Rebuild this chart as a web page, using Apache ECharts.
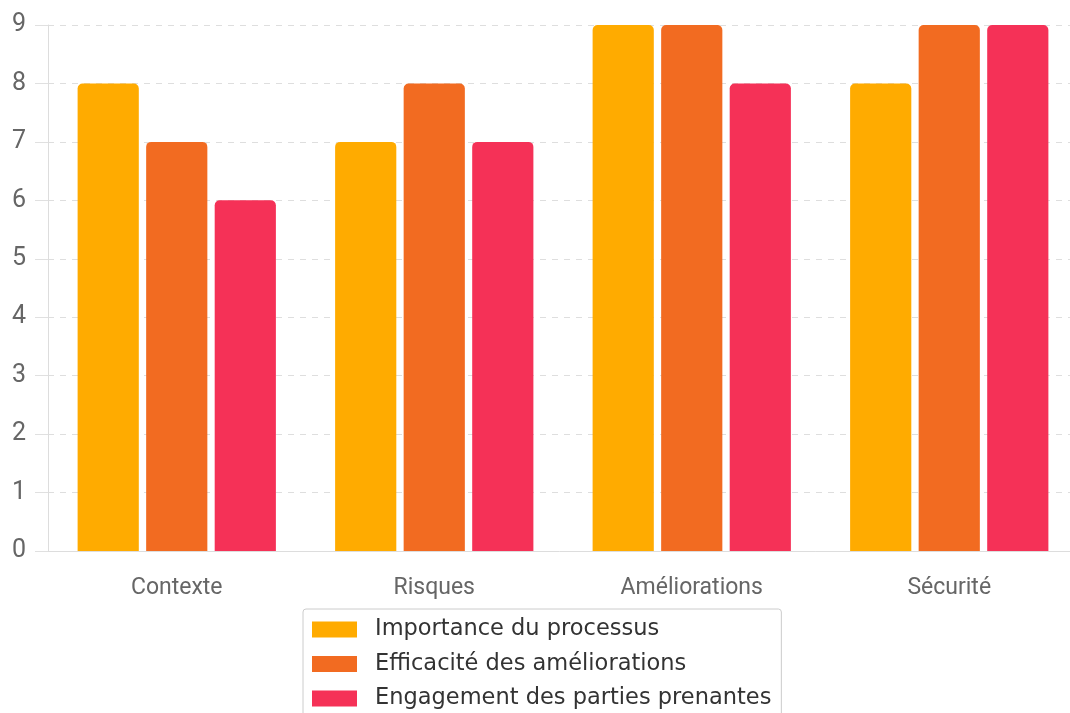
<!DOCTYPE html>
<html>
<head>
<meta charset="utf-8">
<script src="https://cdn.jsdelivr.net/npm/echarts@6/dist/echarts.min.js"></script>
<style>
  html, body { margin: 0; padding: 0; background: #fff; }
  #chart { width: 1070px; height: 713px; }
</style>
</head>
<body>
<div id="chart"></div>
<script>
// Scores per area for the three assessment criteria
const categories = ['Contexte', 'Risques', 'Améliorations', 'Sécurité'];
const seriesNames = ['Importance du processus', 'Efficacité des améliorations', 'Engagement des parties prenantes'];
const importance = [8, 7, 9, 8];
const efficacite = [7, 8, 9, 9];
const engagement = [6, 7, 8, 9];
const yTicks = [0, 1, 2, 3, 4, 5, 6, 7, 8, 9];

const colors = ['#FFAB00', '#F26B21', '#F53157'];
const values = [importance, efficacite, engagement];

const chart = echarts.init(document.getElementById('chart'));
chart.setOption({
  animation: false,
  grid: { left: 48, top: 25, width: 1030, bottom: 162, containLabel: false, outerBoundsMode: 'none' },
  legend: {
    orient: 'vertical',
    left: 303,
    top: 609,
    height: 200,
    padding: [9, 10, 10, 9],
    itemWidth: 45,
    itemHeight: 16,
    itemGap: 11.5,
    icon: 'rect',
    borderColor: '#cccccc',
    borderWidth: 1,
    borderRadius: 3,
    textStyle: { fontFamily: 'DejaVu Sans', fontSize: 22.5, lineHeight: 22, color: '#333', padding: [0, 0, 0, 13] },
    data: seriesNames
  },
  xAxis: {
    type: 'category',
    data: categories,
    axisLine: { lineStyle: { color: '#dddddd' } },
    axisTick: { show: false },
    axisLabel: { fontFamily: 'Roboto', fontSize: 23, color: '#666', margin: 26 }
  },
  yAxis: {
    type: 'value',
    min: yTicks[0],
    max: yTicks[yTicks.length - 1],
    interval: 1,
    axisLine: { show: true, lineStyle: { color: '#dddddd' } },
    axisTick: { show: true, length: 13, lineStyle: { color: '#e0e0e0' } },
    axisLabel: { fontFamily: 'Roboto', fontSize: 25, color: '#666', margin: 22 },
    splitLine: { lineStyle: { color: '#dedede', type: [6, 6] } }
  },
  series: seriesNames.map((name, i) => ({
    name,
    type: 'bar',
    data: values[i],
    barGap: '12%',
    barCategoryGap: '23%',
    itemStyle: { color: colors[i], borderRadius: [5, 5, 0, 0] }
  }))
});
</script>
</body>
</html>
